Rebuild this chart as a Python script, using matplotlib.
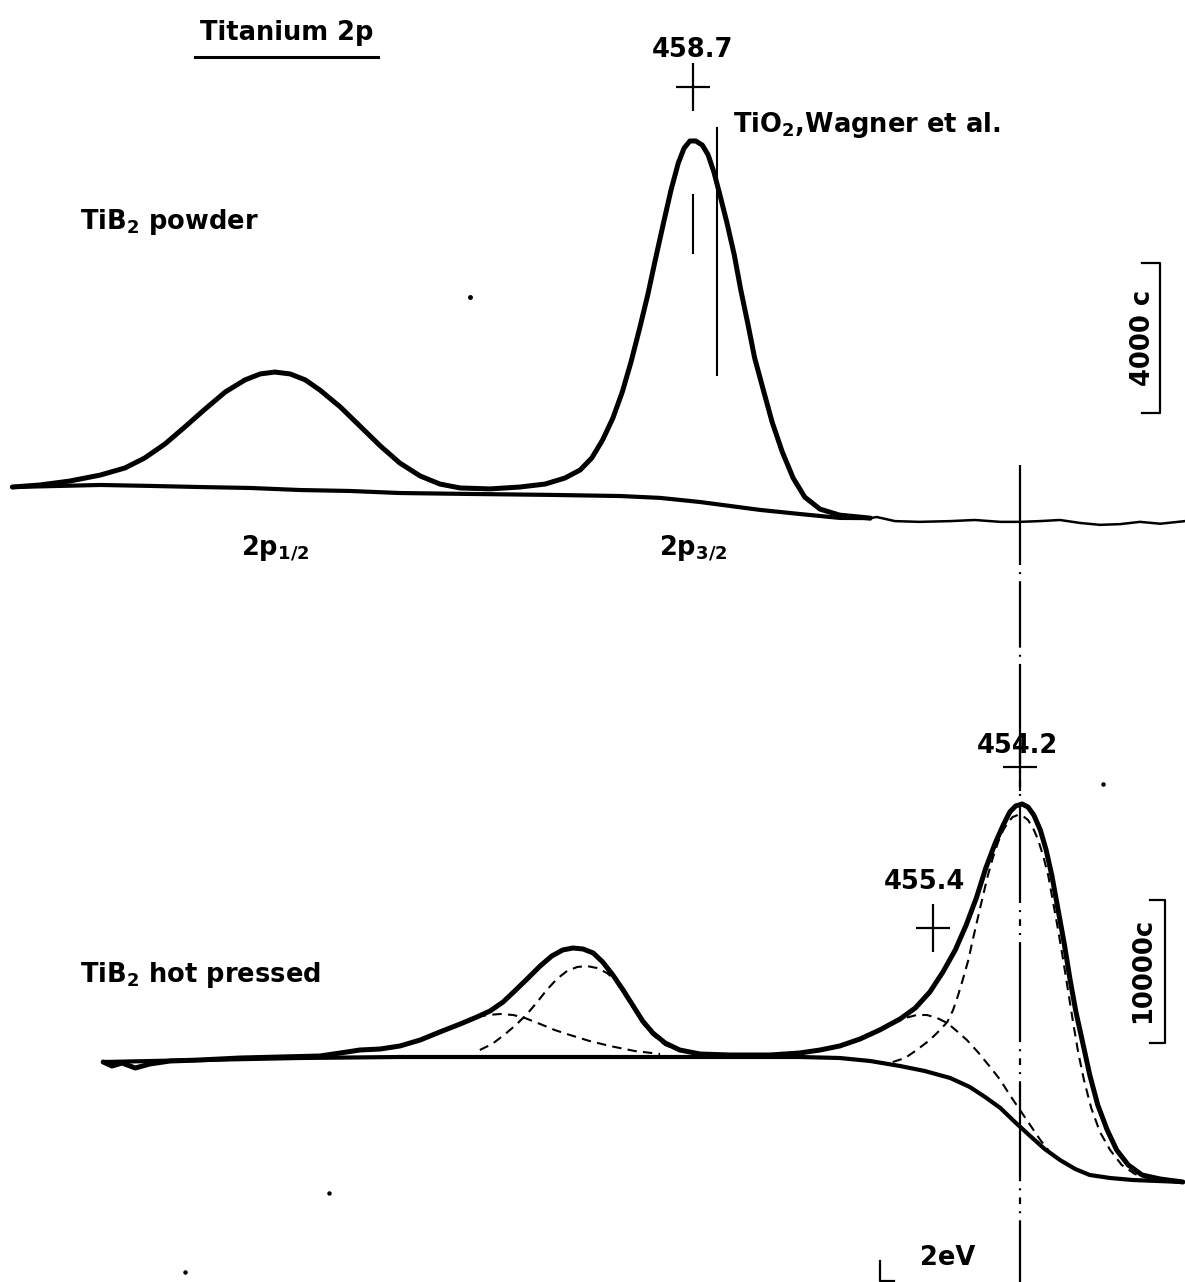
import matplotlib
matplotlib.use("Agg")
import matplotlib.pyplot as plt

plt.rcParams['font.family'] = ['DejaVu Sans']
plt.rcParams['mathtext.fontset'] = 'dejavusans'

# ---------------- data: binding energy (eV) and counts ----------------
# TiB2 powder: measured envelope
top_env_E = [468.06, 467.68, 467.27, 466.85, 466.51, 466.24, 465.96, 465.69, 465.41, 465.13,
             464.86, 464.65, 464.45, 464.24, 464.03, 463.83, 463.55, 463.28, 463.00, 462.73,
             462.45, 462.18, 461.90, 461.49, 461.08, 460.73, 460.46, 460.25, 460.09, 459.94,
             459.80, 459.67, 459.55, 459.43, 459.32, 459.21, 459.10, 459.00, 458.90, 458.82,
             458.74, 458.66, 458.57, 458.49, 458.41, 458.33, 458.23, 458.13, 458.04, 457.94,
             457.85, 457.73, 457.61, 457.47, 457.32, 457.16, 456.95, 456.68, 456.26]
top_env_c = [880, 935, 1040, 1200, 1390, 1655, 2030, 2480, 2960, 3420,
             3740, 3900, 3950, 3900, 3740, 3470, 3020, 2510, 1980, 1520,
             1175, 960, 855, 830, 880, 960, 1120, 1335, 1655, 2140,
             2720, 3420, 4220, 5130, 6010, 7000, 7960, 8810, 9530, 9930,
             10120, 10120, 10010, 9750, 9290, 8700, 7930, 7080, 6140, 5210,
             4330, 3470, 2620, 1820, 1120, 610, 290, 130, 50]
# recorder trace continuing to the right (noise)
top_noise_E = [456.26, 456.17, 455.92, 455.58, 455.16, 454.82, 454.47, 454.20, 453.93, 453.65,
               453.37, 453.10, 452.82, 452.55, 452.27, 451.93]
top_noise_c = [50, 80, -30, -50, -30, 0, -50, -50, -30, 0,
               -80, -130, -110, -50, -100, -30]
# TiB2 powder: background
top_bg_E = [468.06, 467.40, 466.85, 466.17, 465.48, 464.79, 464.10, 463.42, 462.73, 461.76,
            460.66, 459.70, 459.15, 458.60, 458.19, 457.78, 457.23, 456.68, 456.26]
top_bg_c = [880, 910, 935, 910, 880, 855, 800, 775, 720, 695,
            670, 640, 590, 480, 375, 270, 160, 55, 50]

# TiB2 hot pressed: measured envelope
bot_env_E = [466.81, 466.69, 466.55, 466.37, 466.17, 465.89, 465.48, 464.93, 464.38, 463.83,
             463.55, 463.28, 463.00, 462.73, 462.45, 462.18, 461.90, 461.67, 461.49, 461.31,
             461.15, 460.98, 460.80, 460.64, 460.49, 460.35, 460.21, 460.07, 459.94, 459.80,
             459.66, 459.52, 459.39, 459.25, 459.08, 458.88, 458.60, 458.19, 457.64, 457.23,
             456.95, 456.68, 456.40, 456.13, 455.85, 455.64, 455.44, 455.26, 455.09, 454.94,
             454.80, 454.67, 454.54, 454.43, 454.34, 454.26, 454.17, 454.09, 454.01, 453.92,
             453.84, 453.76, 453.68, 453.59, 453.51, 453.43, 453.33, 453.24, 453.13, 453.00,
             452.87, 452.71, 452.52, 452.27, 451.96]
bot_env_c = [8260, 7980, 8190, 7840, 8120, 8330, 8400, 8540, 8610, 8680,
             8890, 9100, 9170, 9380, 9800, 10360, 10920, 11410, 11830, 12460,
             13230, 14070, 14980, 15680, 16100, 16240, 16170, 15890, 15260, 14350,
             13300, 12180, 11130, 10290, 9590, 9100, 8820, 8750, 8750, 8890,
             9100, 9380, 9870, 10500, 11270, 12040, 13160, 14560, 16100, 17850,
             19740, 21840, 23590, 24850, 25760, 26180, 26320, 26110, 25550, 24500,
             23100, 21280, 19040, 16520, 14000, 11760, 9450, 7350, 5250, 3500,
             2100, 1050, 350, 70, -140]
# TiB2 hot pressed: background
bot_bg_E = [466.81, 465.48, 464.10, 462.73, 457.23, 456.68, 456.26, 455.85, 455.51, 455.16,
            454.89, 454.68, 454.47, 454.27, 454.06, 453.86, 453.65, 453.44, 453.24, 452.96,
            452.65, 451.96]
bot_bg_c = [8260, 8400, 8540, 8610, 8610, 8540, 8330, 7980, 7630, 7140,
            6510, 5810, 5040, 4060, 3080, 2170, 1400, 770, 350, 140,
            0, -140]
# fitted components (dashed)
compA_E = [455.95, 455.78, 455.62, 455.44, 455.30, 455.20, 455.12, 455.05, 454.98, 454.91,
           454.85, 454.78, 454.71, 454.64, 454.57, 454.50, 454.43, 454.36, 454.30, 454.23,
           454.16, 454.09, 454.02, 453.95, 453.88, 453.81, 453.75, 453.68, 453.61, 453.54,
           453.47, 453.40, 453.32, 453.22, 453.10, 452.96, 452.80, 452.62, 452.41]
compA_c = [8260, 8540, 9100, 9800, 10500, 11060, 11900, 12950, 14140, 15400,
           16800, 18340, 19880, 21350, 22610, 23660, 24500, 25060, 25410, 25550,
           25480, 25200, 24640, 23800, 22680, 21280, 19600, 17640, 15540, 13300,
           11060, 8960, 7000, 5040, 3360, 2100, 1050, 420, 70]
compB_E = [455.95, 455.78, 455.62, 455.48, 455.34, 455.20, 455.07, 454.93, 454.78, 454.61,
           454.47, 454.34, 454.20, 454.06, 453.92, 453.81]
compB_c = [10920, 11340, 11550, 11550, 11340, 10990, 10430, 9800, 8960, 7910,
           7000, 5950, 4900, 3850, 2800, 2100]
compC_E = [461.63, 461.46, 461.28, 461.12, 460.98, 460.84, 460.71, 460.57, 460.43, 460.29,
           460.16, 460.02, 459.88, 459.74, 459.61, 459.50, 459.39, 459.25, 459.08, 458.88]
compC_c = [9100, 9520, 10220, 10920, 11620, 12460, 13300, 14070, 14630, 14910,
           14980, 14840, 14490, 13860, 12740, 11900, 10990, 10150, 9450, 9030]
compD_E = [461.67, 461.52, 461.35, 461.17, 461.01, 460.80, 460.60, 460.39, 460.12, 459.84,
           459.50, 459.15]
compD_c = [11410, 11550, 11620, 11550, 11340, 10920, 10500, 10150, 9730, 9380,
           9030, 8820]

peak_powder = 458.7
peak_main = 454.2
peak_shoulder = 455.4
tio2_ref = 458.37
scale_top = 4000
scale_bot = 10000
energy_bar = 2.0

# ---------------- figure ----------------
W, H = 1185, 1282
fig = plt.figure(figsize=(W / 100, H / 100), dpi=100)
XL = (468.23, 451.93)
axT = fig.add_axes([0, 0.5, 1, 0.5])
axB = fig.add_axes([0, 0.0, 1, 0.5])
axT.set_xlim(*XL); axT.set_ylim(-3231, 13884)
axB.set_xlim(*XL); axB.set_ylim(-7140, 37730)
for a in (axT, axB):
    a.axis('off')

K = 'black'
FS = 18.5
fkw = dict(fontsize=FS, fontweight='bold', color=K)
rnd = dict(solid_capstyle='round', solid_joinstyle='round')


def plus(ax, x, y):
    # hand-drawn style "+" (taller than wide)
    ax.plot([x], [y], marker='|', ms=34, mew=1.6, color=K)
    ax.plot([x], [y], marker='_', ms=25, mew=1.6, color=K)


# ---- top panel ----
axT.plot(top_bg_E, top_bg_c, color=K, lw=3.0, **rnd)
axT.plot(top_env_E, top_env_c, color=K, lw=3.6, **rnd)
axT.plot(top_noise_E, top_noise_c, color=K, lw=1.8, solid_joinstyle='round')

plus(axT, peak_powder, 11560)
axT.text(peak_powder, 12550, '458.7', ha='center', va='center', **fkw)
axT.plot([peak_powder, peak_powder], [7130, 8680], color=K, lw=1.5)
axT.plot([tio2_ref, tio2_ref], [3870, 10470], color=K, lw=1.5)
axT.text(458.15, 10550, r'TiO$_\mathbf{2}$,Wagner et al.', ha='left', va='center', **fkw)

axT.text(464.28, 13000, 'Titanium 2p', ha='center', va='center', **fkw)
axT.plot([465.55, 463.03], [12350, 12350], color=K, lw=2.2)
axT.text(467.13, 7960, r'TiB$_\mathbf{2}$ powder', ha='left', va='center', **fkw)
axT.text(464.45, -750, r'2p$_\mathbf{1/2}$', ha='center', va='center', **fkw)
axT.text(458.70, -750, r'2p$_\mathbf{3/2}$', ha='center', va='center', **fkw)

# 4000 c scale bar
axT.plot([452.52, 452.27, 452.27, 452.52], [2850, 2850, 2850 + scale_top, 2850 + scale_top],
         color=K, lw=1.6)
axT.text(452.51, 4850, '4000 c', rotation=90, ha='center', va='center', **fkw)

# dash-dot reference line (454.2)
axT.plot([peak_main, peak_main], [1470, -3231], color=K, lw=1.6,
         linestyle=(0, (45, 3.2, 0.9, 3.2)))
axB.plot([peak_main, peak_main], [37730, -7140], color=K, lw=1.6,
         linestyle=(0, (3, 3.2, 0.9, 3.2, 45, 3.2, 0.9, 3.2)))

# ---- bottom panel ----
dash = (0, (4.5, 3.0))
for E_, c_ in ((compA_E, compA_c), (compB_E, compB_c), (compC_E, compC_c), (compD_E, compD_c)):
    axB.plot(E_, c_, color=K, lw=1.5, linestyle=dash)
axB.plot(bot_bg_E, bot_bg_c, color=K, lw=3.0, **rnd)
axB.plot(bot_env_E, bot_env_c, color=K, lw=3.6, **rnd)

plus(axB, peak_main, 28900)
axB.text(peak_main + 0.03, 30400, '454.2', ha='center', va='center', **fkw)
plus(axB, peak_shoulder, 17640)
axB.text(455.51, 20860, '455.4', ha='center', va='center', **fkw)
axB.text(467.13, 14350, r'TiB$_\mathbf{2}$ hot pressed', ha='left', va='center', **fkw)

# 10000 c scale bar
axB.plot([452.41, 452.21, 452.21, 452.41], [9600, 9600, 9600 + scale_bot, 9600 + scale_bot],
         color=K, lw=1.6)
axB.text(452.51, 14700, '10000c', rotation=90, ha='center', va='center', **fkw)

# 2 eV bar
x0 = peak_main + energy_bar - 0.07
axB.plot([x0, x0, x0 - 0.2], [-5700, -7100, -7100], color=K, lw=1.6)
axB.text(455.19, -5450, '2eV', ha='center', va='center', **fkw)

# specks of the scan
axT.plot([461.77], [5950], 'o', ms=2.5, color=K)
axB.plot([453.06, 463.71, 465.69], [27720, -910, -6440], 'o', ms=2.2, color=K, linestyle='none')

fig.savefig('out.png', dpi=100, facecolor='white')
